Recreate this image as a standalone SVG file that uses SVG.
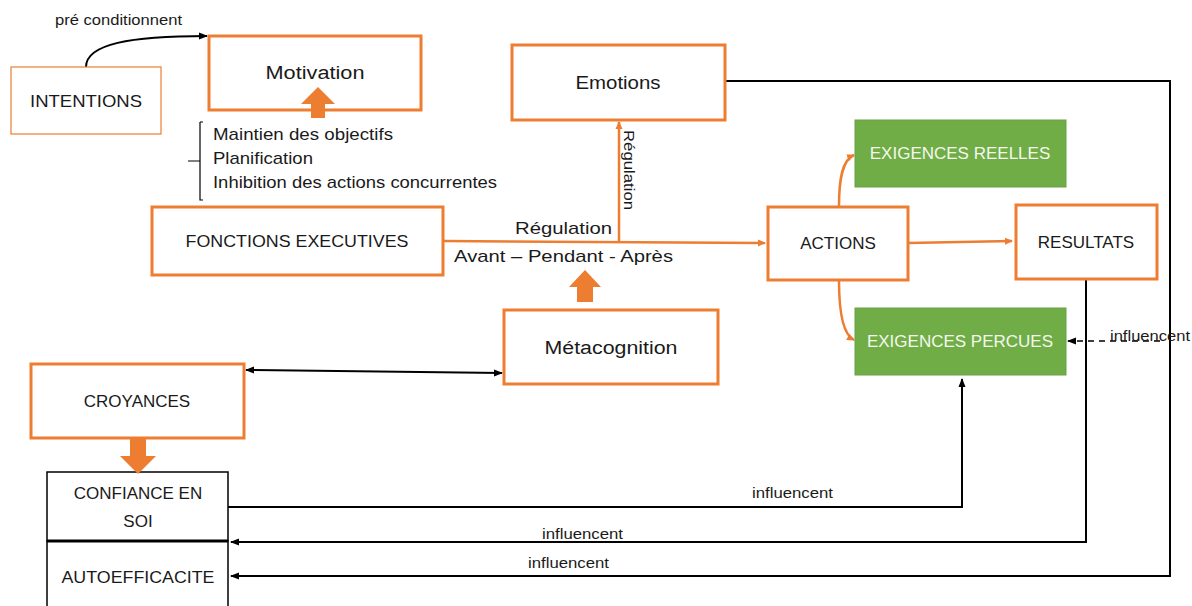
<svg xmlns="http://www.w3.org/2000/svg" width="1192" height="606" viewBox="0 0 1192 606">
<defs>
<marker id="ao" markerWidth="8" markerHeight="8" refX="7" refY="4" orient="auto" markerUnits="userSpaceOnUse"><path d="M0,0.5 L8,4 L0,7.5 Z" fill="#ED7D31"/></marker>
<marker id="ab" markerWidth="9" markerHeight="8" refX="8" refY="4" orient="auto" markerUnits="userSpaceOnUse"><path d="M0,0.5 L9,4 L0,7.5 Z" fill="#000"/></marker>
<marker id="abs" markerWidth="9" markerHeight="8" refX="1" refY="4" orient="auto" markerUnits="userSpaceOnUse"><path d="M9,0.5 L0,4 L9,7.5 Z" fill="#000"/></marker>
</defs>
<style>
text{font-family:"Liberation Sans","Open Sans",sans-serif;fill:#1a1a1a}
.t{font-size:17px;text-anchor:middle}
.s{font-size:14px}
.m{font-size:17px}
.w{fill:#f4f8ee}
.ob{fill:#fff;stroke:#ED7D31;stroke-width:3}
.ot{fill:#fff;stroke:#ED7D31;stroke-width:1.2}
.gb{fill:#70AD47;stroke:#6a9f45;stroke-width:1}
.kb{fill:#fff;stroke:#000;stroke-width:1.5}
.oc{fill:none;stroke:#ED7D31;stroke-width:2.5}
.kc{fill:none;stroke:#000;stroke-width:2}
.blk{fill:#ED7D31}
</style>
<rect width="1192" height="606" fill="#fff"/>
<g id="connectors">
<path class="kc" d="M86,67 C86,44 130,36 207,36" marker-end="url(#ab)"/>
<path class="oc" d="M443,241 L765,243" marker-end="url(#ao)"/>
<path class="oc" d="M619,242 L619,122" marker-end="url(#ao)"/>
<path class="oc" d="M908,243 L1012,241" marker-end="url(#ao)"/>
<path class="oc" d="M839,206 C839,180 842,160 854,155" marker-end="url(#ao)"/>
<path class="oc" d="M839,281 C839,310 842,334 854,340" marker-end="url(#ao)"/>
<path fill="none" stroke="#000" stroke-width="1.2" d="M200,122 L203,122 M200,122 L200,200 L203,200 M200,161 L188,161"/>
<path class="kc" d="M246,370 L502,373" marker-start="url(#abs)" marker-end="url(#ab)"/>
<path class="kc" d="M228,507 L962,507 L962,379" marker-end="url(#ab)"/>
<path class="kc" d="M1086,279 L1086,542 L231,542" marker-end="url(#ab)"/>
<path class="kc" d="M725,81 L1170,81 L1170,576 L231,576" marker-end="url(#ab)"/>
<path fill="none" stroke="#000" stroke-width="1.5" stroke-dasharray="6 5" d="M1160,341 L1068,341" marker-end="url(#ab)"/>
</g>
<g id="n-intentions"><rect class="ot" x="11" y="67" width="150" height="67"/><text class="t" x="86" y="107" textLength="112" lengthAdjust="spacingAndGlyphs">INTENTIONS</text></g>
<text class="s" x="55" y="25" textLength="127" lengthAdjust="spacingAndGlyphs">pré conditionnent</text>
<g id="n-motivation"><rect class="ob" x="209" y="36" width="212" height="74"/><text class="t" x="315" y="79" style="font-size:18px" textLength="99" lengthAdjust="spacingAndGlyphs">Motivation</text></g>
<g id="n-brace-text">
<text class="m" x="213" y="140" textLength="180" lengthAdjust="spacingAndGlyphs">Maintien des objectifs</text>
<text class="m" x="213" y="164" textLength="100" lengthAdjust="spacingAndGlyphs">Planification</text>
<text class="m" x="213" y="188" textLength="284" lengthAdjust="spacingAndGlyphs">Inhibition des actions concurrentes</text>
</g>
<g id="n-fonctions"><rect class="ob" x="152" y="207" width="291" height="68"/><text class="t" x="297" y="247" textLength="223" lengthAdjust="spacingAndGlyphs">FONCTIONS EXECUTIVES</text></g>
<g id="n-emotions"><rect class="ob" x="512" y="45" width="213" height="75"/><text class="t" x="618" y="89" style="font-size:18px" textLength="85" lengthAdjust="spacingAndGlyphs">Emotions</text></g>
<text class="s" transform="translate(624,130) rotate(90)" textLength="80" lengthAdjust="spacingAndGlyphs">Régulation</text>
<text class="m" x="515" y="234" textLength="97" lengthAdjust="spacingAndGlyphs">Régulation</text>
<text class="m" x="454" y="262" textLength="219" lengthAdjust="spacingAndGlyphs">Avant – Pendant - Après</text>
<g id="n-metacognition"><rect class="ob" x="504" y="310" width="214" height="74"/><text class="t" x="611" y="354" style="font-size:18px" textLength="133" lengthAdjust="spacingAndGlyphs">Métacognition</text></g>
<g id="n-actions"><rect class="ob" x="768" y="207" width="140" height="73"/><text class="t" x="838" y="249">ACTIONS</text></g>
<g id="n-resultats"><rect class="ob" x="1016" y="205" width="141" height="74"/><text class="t" x="1086" y="248">RESULTATS</text></g>
<g id="n-reelles"><rect class="gb" x="855" y="120" width="211" height="67"/><text class="t w" x="960" y="159">EXIGENCES REELLES</text></g>
<g id="n-percues"><rect class="gb" x="855" y="308" width="211" height="67"/><text class="t w" x="960" y="347">EXIGENCES PERCUES</text></g>
<text class="s" x="1110" y="341" textLength="80" lengthAdjust="spacingAndGlyphs">influencent</text>
<g id="n-croyances"><rect class="ob" x="31" y="364" width="213" height="74"/><text class="t" x="137" y="407">CROYANCES</text></g>
<g id="n-confiance"><rect class="kb" x="47" y="472" width="181" height="69"/><text class="t" x="138" y="499">CONFIANCE EN</text><text class="t" x="138" y="527">SOI</text></g>
<g id="n-autoefficacite"><rect class="kb" x="47" y="541" width="181" height="70"/><line x1="47" y1="541" x2="228" y2="541" stroke="#000" stroke-width="3"/><text class="t" x="138" y="583" textLength="153" lengthAdjust="spacingAndGlyphs">AUTOEFFICACITE</text></g>
<g id="block-arrows">
<path class="blk" d="M311,118 L311,104 L301,104 L318,87 L335,104 L325,104 L325,118 Z"/>
<path class="blk" d="M577,302 L577,287 L569,287 L585,270 L601,287 L593,287 L593,302 Z"/>
<path class="blk" d="M130,439 L130,456 L120,456 L138,474 L156,456 L146,456 L146,439 Z"/>
</g>
<text class="s" x="752" y="498" textLength="81" lengthAdjust="spacingAndGlyphs">influencent</text>
<text class="s" x="542" y="539" textLength="81" lengthAdjust="spacingAndGlyphs">influencent</text>
<text class="s" x="528" y="568" textLength="81" lengthAdjust="spacingAndGlyphs">influencent</text>
</svg>
